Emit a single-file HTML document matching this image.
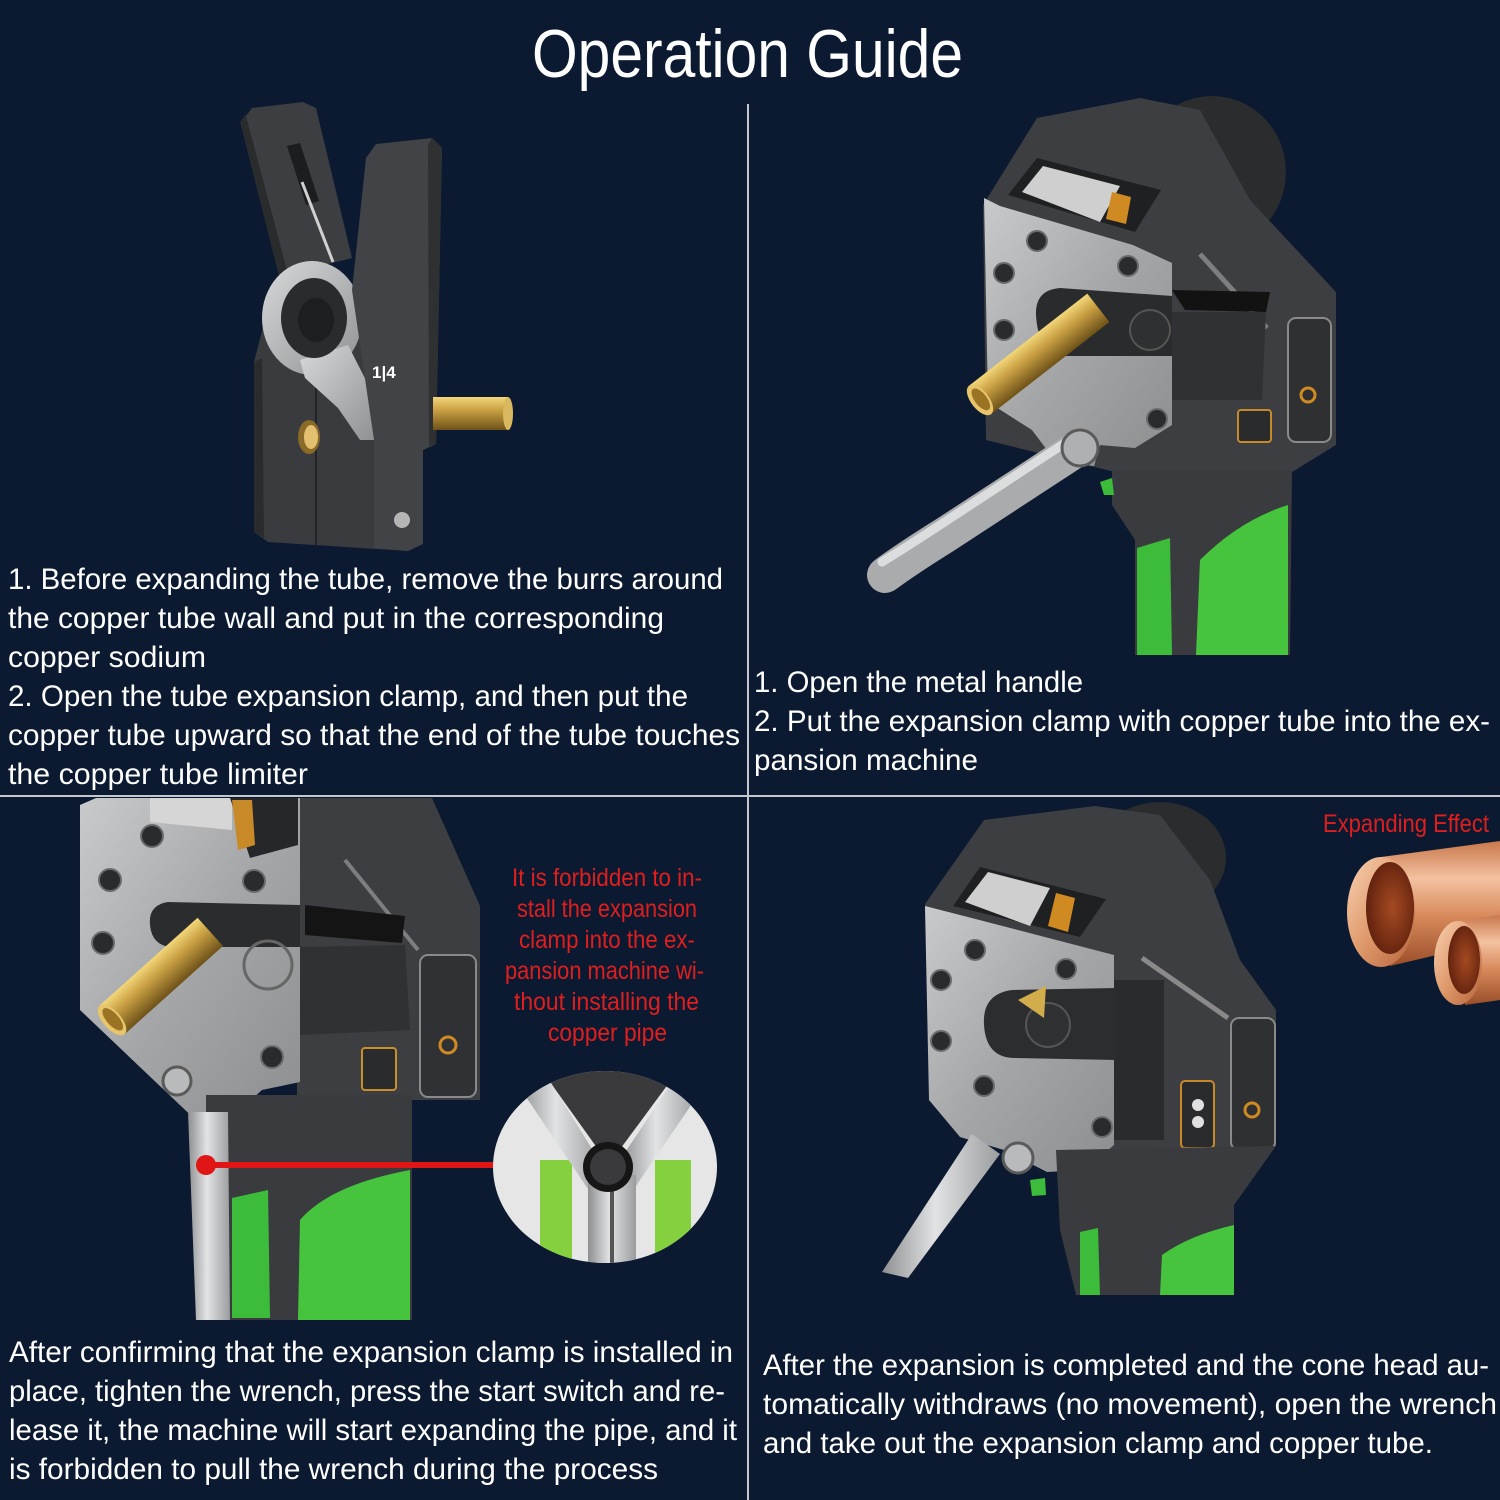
<!DOCTYPE html>
<html>
<head>
<meta charset="utf-8">
<style>
  html,body{margin:0;padding:0;background:#0b1a30;}
  svg{display:block;}
  text{font-family:"Liberation Sans", Arial, sans-serif;}
</style>
</head>
<body>
<svg width="1500" height="1500" viewBox="0 0 1500 1500" xmlns="http://www.w3.org/2000/svg">
<defs>
  <linearGradient id="plate" x1="0" y1="0" x2="1" y2="1">
    <stop offset="0" stop-color="#c9cacc"/>
    <stop offset="0.5" stop-color="#a4a6a8"/>
    <stop offset="1" stop-color="#8c8e90"/>
  </linearGradient>
  <linearGradient id="silv" x1="0" y1="0" x2="1" y2="1">
    <stop offset="0" stop-color="#d8d9da"/>
    <stop offset="1" stop-color="#8e9092"/>
  </linearGradient>
  <linearGradient id="silvH" x1="0" y1="0" x2="1" y2="0">
    <stop offset="0" stop-color="#8d8f91"/>
    <stop offset="0.45" stop-color="#e2e3e4"/>
    <stop offset="1" stop-color="#9a9c9e"/>
  </linearGradient>
  <linearGradient id="brassV" x1="0" y1="0" x2="0" y2="1">
    <stop offset="0" stop-color="#f2d77a"/>
    <stop offset="0.4" stop-color="#c9a043"/>
    <stop offset="1" stop-color="#6e5218"/>
  </linearGradient>
  <linearGradient id="copperV" x1="0" y1="0" x2="0" y2="1">
    <stop offset="0" stop-color="#c9784c"/>
    <stop offset="0.3" stop-color="#f3c2a0"/>
    <stop offset="0.6" stop-color="#d88a5c"/>
    <stop offset="1" stop-color="#9a4e28"/>
  </linearGradient>
  <linearGradient id="copperRim" x1="0" y1="0" x2="1" y2="1">
    <stop offset="0" stop-color="#f8d2b2"/>
    <stop offset="0.5" stop-color="#e09a6c"/>
    <stop offset="1" stop-color="#b5643a"/>
  </linearGradient>
  <radialGradient id="copperIn" cx="0.55" cy="0.5" r="0.6">
    <stop offset="0" stop-color="#a54a22"/>
    <stop offset="1" stop-color="#5c1e0c"/>
  </radialGradient>
  <clipPath id="mag"><ellipse cx="605" cy="1167" rx="112" ry="96"/></clipPath>
</defs>

<rect width="1500" height="1500" fill="#0b1a30"/>

<!-- Title -->
<text x="532" y="77" font-size="68" fill="#ffffff" textLength="431" lengthAdjust="spacingAndGlyphs">Operation Guide</text>

<!-- Dividers -->
<line x1="748" y1="104" x2="748" y2="1500" stroke="#c3c7ce" stroke-width="2"/>
<line x1="0" y1="796" x2="1500" y2="796" stroke="#c3c7ce" stroke-width="2"/>

<!-- ================= Panel 1: clamp ================= -->
<g>
  <polygon points="240,122 246,114 288,272 280,280" fill="#2a2b2d"/>
  <polygon points="246,116 252,108 303,102 316,108 352,258 288,274" fill="#3d3e41"/>
  <polygon points="287,146 300,143 319,201 306,205" fill="#1c1d1f"/>
  <line x1="302" y1="182" x2="333" y2="262" stroke="#d0d0d0" stroke-width="3"/>
  <polygon points="254,362 270,300 340,280 436,360 436,444 423,450 423,544 408,551 268,542 254,532" fill="#3a3b3e"/>
  <polygon points="254,362 262,358 264,538 254,532" fill="#2a2b2d"/>
  <line x1="316" y1="372" x2="316" y2="546" stroke="#222325" stroke-width="2"/>
  <ellipse cx="312" cy="318" rx="50" ry="57" fill="url(#silv)"/>
  <polygon points="300,360 348,345 376,400 374,440 360,440 338,408 305,378" fill="url(#silv)"/>
  <ellipse cx="314" cy="318" rx="33" ry="40" fill="#2a2b2e"/>
  <ellipse cx="316" cy="320" rx="18" ry="22" fill="#1d1e20"/>
  <polygon points="366,158 376,144 432,138 442,148 436,444 423,450 423,544 408,551 374,548 374,440 352,290" fill="#424346"/>
  <polygon points="432,138 442,148 436,444 429,446 428,145" fill="#2f3032"/>
  <text x="372" y="378" font-size="17" font-weight="bold" fill="#ffffff">1|4</text>
  <rect x="433" y="397" width="75" height="33" fill="url(#brassV)"/>
  <ellipse cx="508" cy="413.5" rx="5" ry="16.5" fill="#d9b860"/>
  <ellipse cx="309" cy="437" rx="11" ry="17" fill="#8a6a28"/>
  <ellipse cx="311" cy="437" rx="7" ry="12" fill="#e2c070"/>
  <circle cx="402" cy="520" r="8" fill="#b5b5b5"/>
</g>

<!-- Panel 1 text -->
<g fill="#ffffff" font-size="30">
  <text x="8" y="589" textLength="715" lengthAdjust="spacingAndGlyphs">1. Before expanding the tube, remove the burrs around</text>
  <text x="8" y="628" textLength="656" lengthAdjust="spacingAndGlyphs">the copper tube wall and put in the corresponding</text>
  <text x="8" y="667" textLength="198" lengthAdjust="spacingAndGlyphs">copper sodium</text>
  <text x="8" y="706" textLength="680" lengthAdjust="spacingAndGlyphs">2. Open the tube expansion clamp, and then put the</text>
  <text x="8" y="745" textLength="732" lengthAdjust="spacingAndGlyphs">copper tube upward so that the end of the tube touches</text>
  <text x="8" y="784" textLength="300" lengthAdjust="spacingAndGlyphs">the copper tube limiter</text>
</g>

<!-- ================= Panel 2: machine ================= -->
<g>
  <ellipse cx="1212" cy="172" rx="74" ry="76" fill="#2b2c2e"/>
  <polygon points="983,205 1037,118 1140,98 1200,110 1250,200 1292,245 1336,292 1336,445 1292,472 1115,472 986,440" fill="#3d3e41"/>
  <line x1="1200" y1="254" x2="1267" y2="328" stroke="#7d7e80" stroke-width="5"/>
  <rect x="1288" y="318" width="43" height="124" rx="8" fill="#2f3032" stroke="#8a8a8a" stroke-width="2"/>
  <circle cx="1308" cy="395" r="7" fill="none" stroke="#d08a22" stroke-width="3"/>
  <rect x="1238" y="410" width="33" height="32" rx="3" fill="#2a2b2d" stroke="#c88a28" stroke-width="2"/>
  <polygon points="1008,195 1037,158 1161,190 1135,232" fill="#1f2022"/>
  <polygon points="1022,192 1043,166 1120,186 1100,222" fill="#cfcfcf"/>
  <polygon points="1106,219 1112,192 1131,197 1126,224" fill="#d08a22"/>
  <polygon points="984,198 1000,206 1133,245 1172,263 1172,425 1135,448 1100,445 1094,466 1056,462 1032,430 988,402" fill="url(#plate)"/>
  <polygon points="1172,312 1266,312 1262,400 1172,400" fill="#303134"/>
  <path d="M1172,296 L1060,288 Q1035,290 1036,315 Q1038,352 1062,356 L1172,356 Z" fill="#2a2b2d"/>
  <circle cx="1150" cy="330" r="20" fill="#2f3032" stroke="#555" stroke-width="2"/>
  <polygon points="1172,290 1270,292 1266,312 1185,310" fill="#121212"/>
  <g fill="#2a2b2d" stroke="#6a6b6d" stroke-width="2">
    <circle cx="1037" cy="241" r="10"/>
    <circle cx="1128" cy="266" r="10"/>
    <circle cx="1004" cy="273" r="10"/>
    <circle cx="1004" cy="330" r="10"/>
    <circle cx="1157" cy="419" r="10"/>
  </g>
  <g transform="translate(980,400) rotate(-37.9)">
    <rect x="0" y="-18" width="150" height="36" fill="url(#brassV)"/>
    <ellipse cx="0" cy="0" rx="9" ry="18" fill="#e8c46a"/>
    <ellipse cx="1" cy="0" rx="6" ry="13" fill="#9a7424"/>
  </g>
  <polygon points="1112,470 1292,470 1290,655 1135,655 1135,540 1112,505" fill="#3a3b3e"/>
  <polygon points="1137,548 1170,538 1172,655 1137,655" fill="#3cbc3a"/>
  <path d="M1200,560 Q1240,520 1288,505 L1288,655 L1196,655 Z" fill="#46c43e"/>
  <polygon points="1100,482 1112,478 1114,495 1104,495" fill="#3cbc3a"/>
  <path d="M1072,452 L945,535 Q905,560 885,575" stroke="#a9abad" stroke-width="36" stroke-linecap="round" fill="none"/>
  <path d="M1065,443 L940,525 Q905,548 882,562" stroke="#dcdddf" stroke-width="9" stroke-linecap="round" fill="none"/>
  <circle cx="1080" cy="448" r="18" fill="#aeb0b2" stroke="#5a5a5a" stroke-width="3"/>
</g>

<!-- Panel 2 text -->
<g fill="#ffffff" font-size="30">
  <text x="754" y="692" textLength="329" lengthAdjust="spacingAndGlyphs">1. Open the metal handle</text>
  <text x="754" y="731" textLength="736" lengthAdjust="spacingAndGlyphs">2. Put the expansion clamp with copper tube into the ex-</text>
  <text x="754" y="770" textLength="224" lengthAdjust="spacingAndGlyphs">pansion machine</text>
</g>

<!-- ================= Panel 3 ================= -->
<g>
  <polygon points="297,798 432,798 480,906 480,1100 297,1100" fill="#3d3e41"/>
  <line x1="345" y1="860" x2="418" y2="950" stroke="#7d7e80" stroke-width="4"/>
  <rect x="420" y="955" width="56" height="142" rx="8" fill="#303134" stroke="#8a8a8a" stroke-width="2"/>
  <circle cx="448" cy="1045" r="8" fill="none" stroke="#d08a22" stroke-width="3"/>
  <rect x="362" y="1048" width="34" height="42" rx="3" fill="#2a2b2d" stroke="#c8902a" stroke-width="2"/>
  <polygon points="80,805 96,798 300,798 300,1082 262,1090 240,1110 202,1126 80,1010" fill="url(#plate)"/>
  <polygon points="150,798 232,798 232,830 150,822" fill="#d6d6d6"/>
  <polygon points="230,798 298,798 298,845 250,858" fill="#26272a"/>
  <polygon points="232,800 252,800 255,845 238,850" fill="#c88a28"/>
  <polygon points="300,947 405,945 410,1030 300,1035" fill="#303134"/>
  <path d="M300,905 L168,902 Q148,905 150,925 Q152,946 172,947 L300,947 Z" fill="#2b2c2e"/>
  <circle cx="268" cy="965" r="24" fill="none" stroke="#666" stroke-width="3"/>
  <polygon points="305,905 405,916 402,943 305,935" fill="#141414"/>
  <g fill="#2a2b2d" stroke="#6a6b6d" stroke-width="2">
    <circle cx="110" cy="880" r="11"/>
    <circle cx="103" cy="943" r="11"/>
    <circle cx="152" cy="836" r="11"/>
    <circle cx="254" cy="881" r="11"/>
    <circle cx="272" cy="1057" r="11"/>
  </g>
  <circle cx="177" cy="1081" r="14" fill="#b8babc" stroke="#5a5a5a" stroke-width="3"/>
  <g transform="translate(112,1020) rotate(-41.9)">
    <rect x="0" y="-19" width="132" height="38" fill="url(#brassV)"/>
    <ellipse cx="0" cy="0" rx="9" ry="19" fill="#e8c46a"/>
    <ellipse cx="1" cy="0" rx="6" ry="14" fill="#9a7424"/>
  </g>
  <polygon points="206,1095 412,1095 412,1320 206,1320" fill="#3a3b3e"/>
  <polygon points="232,1198 268,1190 270,1318 232,1318" fill="#3cbc3a"/>
  <path d="M298,1320 L300,1220 Q330,1185 410,1170 L410,1320 Z" fill="#46c43e"/>
  <polygon points="188,1112 228,1112 230,1320 196,1320" fill="url(#silvH)"/>
  <line x1="206" y1="1165" x2="496" y2="1165" stroke="#e01515" stroke-width="6"/>
  <circle cx="206" cy="1165" r="10" fill="#e01515"/>
  <!-- magnifier -->
  <ellipse cx="605" cy="1167" rx="112" ry="96" fill="#e6e6e6"/>
  <g clip-path="url(#mag)">
    <polygon points="540,1068 680,1068 618,1152 600,1152" fill="#3a3a3c"/>
    <rect x="540" y="1160" width="32" height="100" fill="#85d03e"/>
    <rect x="655" y="1160" width="36" height="92" fill="#85d03e"/>
    <polygon points="518,1085 548,1078 602,1165 590,1192" fill="url(#silvH)"/>
    <polygon points="672,1082 700,1092 636,1186 620,1160" fill="url(#silvH)"/>
    <rect x="588" y="1175" width="48" height="95" fill="url(#silvH)"/>
    <line x1="612" y1="1190" x2="612" y2="1270" stroke="#555" stroke-width="4"/>
  </g>
  <circle cx="608" cy="1167" r="25" fill="#161616"/>
  <circle cx="608" cy="1167" r="18" fill="#3a3a3c"/>
</g>

<!-- Red warning text -->
<g fill="#e01e1e" font-size="25">
  <text x="512" y="886" textLength="190" lengthAdjust="spacingAndGlyphs">It is forbidden to in-</text>
  <text x="517" y="917" textLength="180" lengthAdjust="spacingAndGlyphs">stall the expansion</text>
  <text x="519" y="948" textLength="176" lengthAdjust="spacingAndGlyphs">clamp into the ex-</text>
  <text x="505" y="979" textLength="199" lengthAdjust="spacingAndGlyphs">pansion machine wi-</text>
  <text x="514" y="1010" textLength="185" lengthAdjust="spacingAndGlyphs">thout installing the</text>
  <text x="548" y="1041" textLength="119" lengthAdjust="spacingAndGlyphs">copper pipe</text>
</g>

<!-- Panel 3 text -->
<g fill="#ffffff" font-size="30">
  <text x="9" y="1362" textLength="724" lengthAdjust="spacingAndGlyphs">After confirming that the expansion clamp is installed in</text>
  <text x="9" y="1401" textLength="716" lengthAdjust="spacingAndGlyphs">place, tighten the wrench, press the start switch and re-</text>
  <text x="9" y="1440" textLength="728" lengthAdjust="spacingAndGlyphs">lease it, the machine will start expanding the pipe, and it</text>
  <text x="9" y="1479" textLength="649" lengthAdjust="spacingAndGlyphs">is forbidden to pull the wrench during the process</text>
</g>

<!-- ================= Panel 4 ================= -->
<g>
  <ellipse cx="1160" cy="858" rx="66" ry="56" fill="#2b2c2e"/>
  <polygon points="925,904 984,820 1095,806 1160,815 1210,880 1240,960 1276,1010 1276,1146 1230,1152 1060,1152 930,1100" fill="#3d3e41"/>
  <line x1="1142" y1="958" x2="1228" y2="1018" stroke="#8a8a8a" stroke-width="5"/>
  <polygon points="953,906 980,867 1106,899 1080,937" fill="#1f2022"/>
  <polygon points="965,902 988,872 1050,888 1030,926" fill="#cfcfcf"/>
  <polygon points="1048,926 1056,893 1075,898 1068,932" fill="#d08a22"/>
  <rect x="1114" y="980" width="50" height="160" fill="#2a2b2d"/>
  <polygon points="925,906 960,915 1114,955 1114,1145 1085,1170 1047,1172 1004,1150 960,1137 929,1100" fill="url(#plate)"/>
  <path d="M1116,988 L1012,990 Q982,994 984,1025 Q986,1058 1015,1058 L1116,1060 Z" fill="#2c2d2f"/>
  <circle cx="1048" cy="1025" r="22" fill="#303133" stroke="#555" stroke-width="2"/>
  <polygon points="1018,1000 1046,986 1044,1018" fill="#d2ad4c"/>
  <g fill="#2a2b2d" stroke="#6a6b6d" stroke-width="2">
    <circle cx="975" cy="950" r="10"/>
    <circle cx="1066" cy="969" r="10"/>
    <circle cx="941" cy="980" r="10"/>
    <circle cx="941" cy="1041" r="10"/>
    <circle cx="984" cy="1086" r="10"/>
    <circle cx="1102" cy="1127" r="10"/>
  </g>
  <rect x="1231" y="1018" width="44" height="132" rx="8" fill="#2f3032" stroke="#8a8a8a" stroke-width="2"/>
  <circle cx="1252" cy="1110" r="7" fill="none" stroke="#d08a22" stroke-width="3"/>
  <rect x="1181" y="1081" width="33" height="67" rx="4" fill="#2a2b2d" stroke="#c88a28" stroke-width="2"/>
  <circle cx="1198" cy="1105" r="6" fill="#e0e0e0"/>
  <circle cx="1198" cy="1122" r="6" fill="#e0e0e0"/>
  <polygon points="1056,1150 1276,1146 1234,1205 1234,1295 1076,1295 1060,1230" fill="#3a3b3e"/>
  <polygon points="1080,1232 1098,1228 1100,1295 1080,1295" fill="#3cbc3a"/>
  <path d="M1160,1295 L1162,1255 Q1190,1235 1234,1225 L1234,1295 Z" fill="#46c43e"/>
  <polygon points="1030,1180 1045,1178 1046,1195 1032,1196" fill="#3cbc3a"/>
  <polygon points="972,1134 1000,1154 908,1278 882,1272" fill="url(#silvH)"/>
  <circle cx="1018" cy="1158" r="15" fill="#b8babc" stroke="#5a5a5a" stroke-width="3"/>
</g>

<!-- Copper tubes -->
<g>
  <polygon points="1381,857 1500,841 1500,940 1390,966" fill="url(#copperV)"/>
  <ellipse cx="1381" cy="912" rx="34" ry="55" fill="url(#copperRim)"/>
  <ellipse cx="1390" cy="908" rx="24" ry="46" fill="url(#copperIn)"/>
  <polygon points="1458,921 1500,915 1500,1000 1465,1005" fill="url(#copperV)"/>
  <ellipse cx="1458" cy="963" rx="24" ry="42" fill="url(#copperRim)"/>
  <ellipse cx="1464" cy="960" rx="16" ry="34" fill="url(#copperIn)"/>
</g>
<text x="1323" y="832" font-size="25" fill="#e01e1e" textLength="166" lengthAdjust="spacingAndGlyphs">Expanding Effect</text>

<!-- Panel 4 text -->
<g fill="#ffffff" font-size="30">
  <text x="763" y="1375" textLength="726" lengthAdjust="spacingAndGlyphs">After the expansion is completed and the cone head au-</text>
  <text x="763" y="1414" textLength="734" lengthAdjust="spacingAndGlyphs">tomatically withdraws (no movement), open the wrench</text>
  <text x="763" y="1453" textLength="670" lengthAdjust="spacingAndGlyphs">and take out the expansion clamp and copper tube.</text>
</g>

</svg>
</body>
</html>
